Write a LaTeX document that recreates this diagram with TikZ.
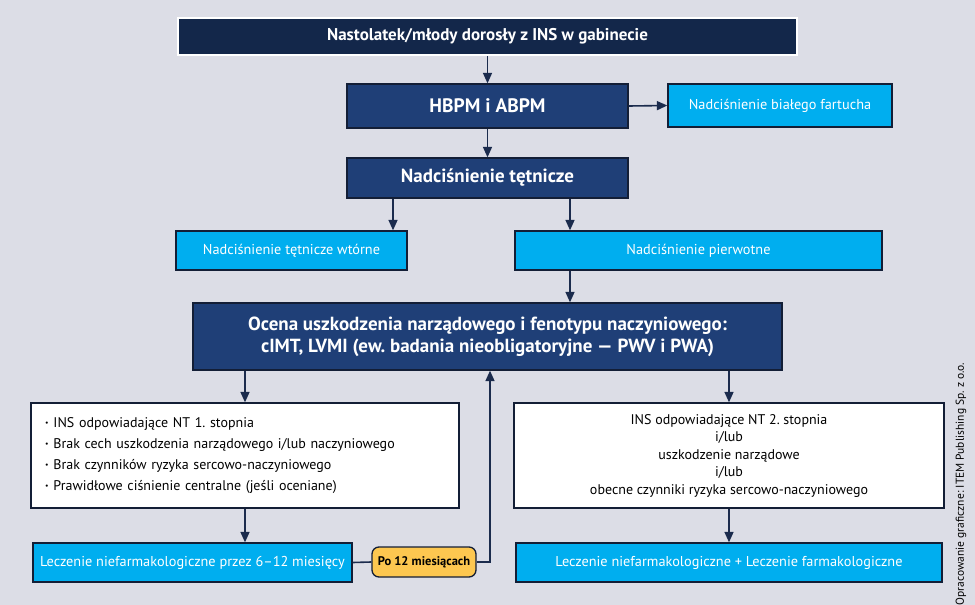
\documentclass[tikz,border=0pt]{standalone}
\usepackage{fontspec}
\setmainfont{PT Sans}
\usetikzlibrary{arrows.meta, positioning, calc}
\definecolor{ITEM_Navy}{HTML}{13274A}
\definecolor{ITEM_Blue}{HTML}{1F3F77}
\definecolor{ITEM_Cyan}{HTML}{00AEEF}
\definecolor{ITEM_Yellow}{HTML}{FDC750}
\definecolor{ITEM_Back}{HTML}{DCDDE6}
\definecolor{ITEM_Line}{HTML}{1B2B4D}
\newcommand{\itemdot}{\raisebox{0.3ex}{\scalebox{0.55}{\textbullet}}\hspace{5pt}}
\frenchspacing

\begin{document}
\begin{tikzpicture}[
    x=1pt, y=-1pt,
    box/.style={draw=ITEM_Line!70!black, line width=1.3pt, anchor=center, inner sep=0pt, align=center},
    topbox/.style={box, fill=ITEM_Navy, draw=white, line width=2.5pt, text=white, font=\bfseries\fontsize{17}{20}\selectfont},
    navybox/.style={box, fill=ITEM_Blue, text=white, font=\bfseries\fontsize{19.5}{22}\selectfont},
    cyanbox/.style={box, fill=ITEM_Cyan, text=white, font=\fontsize{14.3}{17}\selectfont},
    whitebox/.style={box, fill=white, font=\fontsize{14}{17}\selectfont},
    pill/.style={box, fill=ITEM_Yellow, rounded corners=7pt, font=\bfseries\fontsize{12.5}{14}\selectfont},
    arr/.style={draw=ITEM_Line, line width=1.6pt, -{Triangle[width=9pt,length=10.5pt]}},
    link/.style={draw=ITEM_Line, line width=1.6pt}
]
\fill[ITEM_Back] (0,0) rectangle (975,605);
\useasboundingbox (0,0) rectangle (975,605);

% upper part
\node[topbox, minimum width=619, minimum height=37] (start) at (487.5,36.5) {Nastolatek/młody dorosły z INS w gabinecie};
\node[navybox, minimum width=281, minimum height=44] (hbpm) at (487.5,106) {HBPM i ABPM};
\node[cyanbox, minimum width=224, minimum height=43] (fartuch) at (780,105.5) {Nadciśnienie białego fartucha};
\node[navybox, minimum width=281, minimum height=40, font=\bfseries\fontsize{19}{22}\selectfont] (nt) at (487.5,178) {Nadciśnienie tętnicze};
\node[cyanbox, minimum width=231, minimum height=39] (wtorne) at (291.5,250.5) {Nadciśnienie tętnicze wtórne};
\node[cyanbox, minimum width=367, minimum height=39] (pierwotne) at (698.5,250.5) {Nadciśnienie pierwotne};
\node[navybox, minimum width=589, minimum height=67, font=\bfseries\fontsize{19}{22}\selectfont] (ocena) at (487.5,336.5) {Ocena uszkodzenia narządowego i fenotypu naczyniowego:\\cIMT, LVMI (ew. badania nieobligatoryjne --- PWV i PWA)};

% lower part
\node[whitebox, minimum width=428, minimum height=105, text width=400, align=left, font=\fontsize{14}{21}\selectfont] (nt1) at (245,455.5) {\itemdot INS odpowiadające NT 1. stopnia\\
\itemdot Brak cech uszkodzenia narządowego i/lub naczyniowego\\
\itemdot Brak czynników ryzyka sercowo-naczyniowego\\
\itemdot Prawidłowe ciśnienie centralne (jeśli oceniane)};
\node[whitebox, minimum width=430, minimum height=105, font=\fontsize{14}{17.5}\selectfont] (nt2) at (729,455.5) {INS odpowiadające NT 2. stopnia\\i/lub\\uszkodzenie narządowe\\i/lub\\obecne czynniki ryzyka sercowo-naczyniowego};
\node[cyanbox, minimum width=319, minimum height=39] (niefarm) at (192.5,562.5) {Leczenie niefarmakologiczne przez 6--12 miesięcy};
\node[pill, minimum width=104, minimum height=30] (po12) at (424,562) {Po 12 miesiącach};
\node[cyanbox, minimum width=426, minimum height=39] (farm) at (729,562.5) {Leczenie niefarmakologiczne + Leczenie farmakologiczne};

\node[rotate=90, font=\fontsize{11.5}{13}\selectfont] (credit) at (961,484) {Opracowanie graficzne: ITEM Publishing Sp. z o.o.};

% connectors
\draw[arr] (start.south) -- (hbpm.north);
\draw[arr] (hbpm.east) -- (fartuch.west);
\draw[arr] (hbpm.south) -- (nt.north);
\draw[arr] ([xshift=-94.5]nt.south) -- ([xshift=-94.5]nt.south |- wtorne.north);
\draw[arr] ([xshift=82.5]nt.south) -- ([xshift=82.5]nt.south |- pierwotne.north);
\draw[arr] ([xshift=-128.5]pierwotne.south) -- ([xshift=-128.5]pierwotne.south |- ocena.north);
\draw[arr] (ocena.south -| nt1.north) -- (nt1.north);
\draw[arr] (ocena.south -| nt2.north) -- (nt2.north);
\draw[arr] (nt1.south) -- (nt1.south |- niefarm.north);
\draw[arr] (nt2.south) -- (farm.north);
\draw[link] (niefarm.east) -- (po12.west);
\draw[arr] (po12.east) -| ([xshift=2.5]ocena.south);
\end{tikzpicture}
\end{document}
